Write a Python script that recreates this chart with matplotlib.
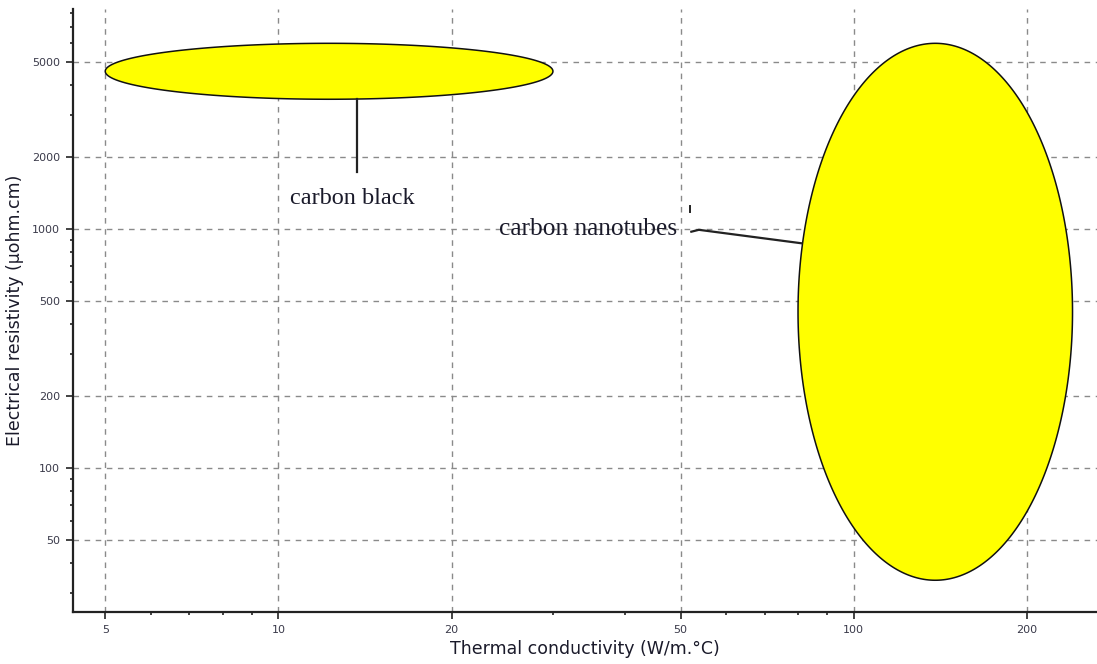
import numpy as np
import matplotlib
matplotlib.use("Agg")
import matplotlib.pyplot as plt
from matplotlib.ticker import FixedLocator, FixedFormatter, NullFormatter

# Material property ranges (thermal conductivity in W/m.°C, resistivity in µohm.cm)
materials = ["carbon black", "carbon nanotubes"]
k_low = [5, 80]
k_high = [30, 240]
rho_low = [3500, 34]
rho_high = [6000, 6000]

x_ticks = [5, 10, 20, 50, 100, 200]
y_ticks = [50, 100, 200, 500, 1000, 2000, 5000]
x_minor = [6, 7, 8, 9, 30, 40, 60, 70, 80, 90]
y_minor = [30, 40, 60, 70, 80, 90, 300, 400, 600, 700, 800, 900,
           3000, 4000, 6000, 7000, 8000]

fig = plt.figure(figsize=(10.97, 6.64), dpi=100)
ax = fig.add_axes([0.0663, 0.0783, 0.9337, 0.9077])
ax.set_xscale("log")
ax.set_yscale("log")
ax.set_xlim(4.39, 264.7)
ax.set_ylim(25.04, 8327)

# Grid on major ticks only
ax.xaxis.set_major_locator(FixedLocator(x_ticks))
ax.xaxis.set_major_formatter(FixedFormatter([str(v) for v in x_ticks]))
ax.yaxis.set_major_locator(FixedLocator(y_ticks))
ax.yaxis.set_major_formatter(FixedFormatter([str(v) for v in y_ticks]))
ax.xaxis.set_minor_locator(FixedLocator(x_minor))
ax.yaxis.set_minor_locator(FixedLocator(y_minor))
ax.xaxis.set_minor_formatter(NullFormatter())
ax.yaxis.set_minor_formatter(NullFormatter())
ax.grid(True, which="major", color="#8a8a8a", linestyle=(0, (4, 4)), linewidth=1.0)
ax.set_axisbelow(True)

for side in ("top", "right"):
    ax.spines[side].set_visible(False)
for side in ("left", "bottom"):
    ax.spines[side].set_linewidth(1.6)
    ax.spines[side].set_color("#222222")

ax.tick_params(which="major", direction="out", length=5, width=1.2,
               color="#222222", labelsize=8, labelcolor="#3a3a4a", pad=4)
ax.tick_params(which="minor", direction="out", length=2.5, width=1.2,
               color="#222222")

# Property bubbles: ellipses in log-log space
t = np.linspace(0, 2 * np.pi, 400)
for lo_k, hi_k, lo_r, hi_r in zip(k_low, k_high, rho_low, rho_high):
    cx = (np.log10(lo_k) + np.log10(hi_k)) / 2
    rx = (np.log10(hi_k) - np.log10(lo_k)) / 2
    cy = (np.log10(lo_r) + np.log10(hi_r)) / 2
    ry = (np.log10(hi_r) - np.log10(lo_r)) / 2
    xs = 10 ** (cx + rx * np.cos(t))
    ys = 10 ** (cy + ry * np.sin(t))
    ax.fill(xs, ys, facecolor="#ffff00", edgecolor="#111111", linewidth=1.1, zorder=3)

serif = ["Liberation Serif", "DejaVu Serif"]

# carbon black label with vertical leader
ax.plot([13.7, 13.7], [rho_low[0], 1741], color="#222222", linewidth=1.6, zorder=4)
ax.text(13.46, 1276, materials[0], ha="center", va="baseline",
        fontsize=17.5, family=serif, color="#1a1a2a", zorder=5)

# carbon nanotubes label with slanted leader
ax.plot([52.2, 53.8, 81.1], [977, 995, 874], color="#222222", linewidth=1.6, zorder=4)
ax.plot([52.0, 52.0], [1180, 1250], color="#222222", linewidth=1.4, zorder=4)
ax.text(49.4, 947, materials[1], ha="right", va="baseline",
        fontsize=18.3, family=serif, color="#1a1a2a", zorder=5)

ax.set_xlabel("Thermal conductivity (W/m.°C)", fontsize=12.5, color="#1a1a2a", labelpad=4)
ax.set_ylabel("Electrical resistivity (µohm.cm)", fontsize=12.5, color="#1a1a2a", labelpad=6)

fig.savefig("out.png", dpi=100)
